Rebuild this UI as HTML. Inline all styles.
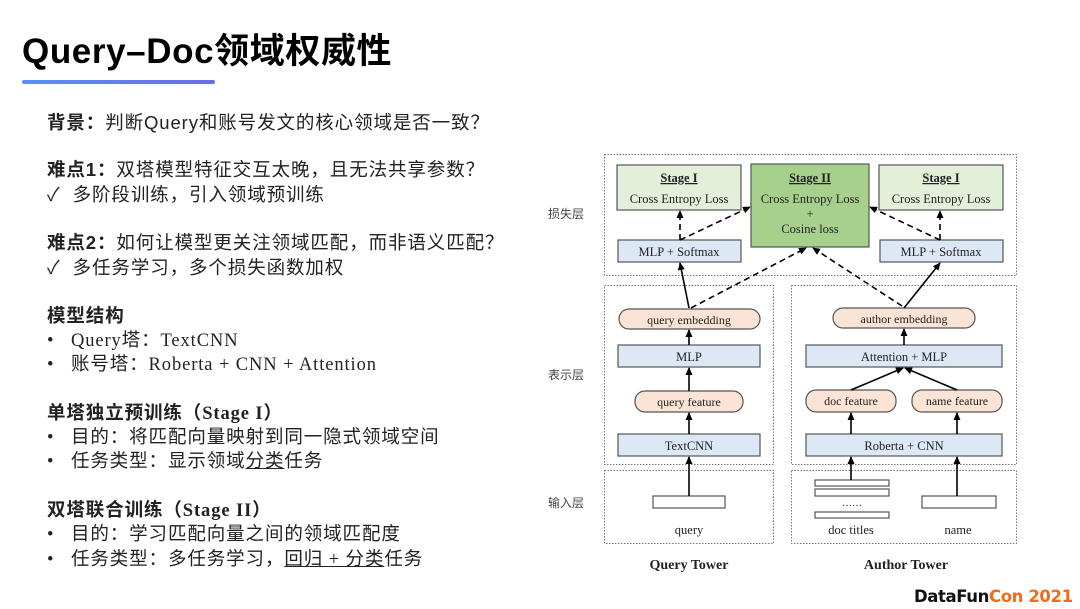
<!DOCTYPE html>
<html><head><meta charset="utf-8"><style>
body{margin:0;width:1080px;height:608px;background:#fff;position:relative;overflow:hidden;font-family:"Liberation Serif","Noto Sans CJK SC",serif;color:#222}
.t{position:absolute;white-space:nowrap;font-size:18.5px;line-height:24px;letter-spacing:0.9px}
.cn{font-family:"Liberation Sans","Noto Sans CJK SC",sans-serif}
b{font-weight:bold}
u{text-decoration:underline}
</style></head><body>
<div class="t cn" style="left:22px;top:30px;font-size:35px;line-height:44px;color:#000;font-weight:bold;letter-spacing:0.6px">Query–Doc领域权威性</div>
<div style="position:absolute;left:22px;top:80px;width:193px;height:4px;border-radius:2px;background:linear-gradient(90deg,#5b8ef5,#6a6cf0)"></div>

<div class="t cn" style="left:47px;top:111px"><b>背景：</b>判断Query和账号发文的核心领域是否一致？</div>
<div class="t cn" style="left:47px;top:158px"><b>难点1：</b>双塔模型特征交互太晚，且无法共享参数？</div>
<div class="t cn" style="left:47px;top:183px">✓&nbsp; 多阶段训练，引入领域预训练</div>
<div class="t cn" style="left:47px;top:231px"><b>难点2：</b>如何让模型更关注领域匹配，而非语义匹配？</div>
<div class="t cn" style="left:47px;top:256px">✓&nbsp; 多任务学习，多个损失函数加权</div>
<div class="t" style="left:47px;top:305px"><b>模型结构</b></div>
<div class="t" style="left:47px;top:329px">•&nbsp;&nbsp; Query塔：TextCNN</div>
<div class="t" style="left:47px;top:353px">•&nbsp;&nbsp; 账号塔：Roberta + CNN + Attention</div>
<div class="t" style="left:47px;top:402px"><b>单塔独立预训练（Stage I）</b></div>
<div class="t" style="left:47px;top:426px">•&nbsp;&nbsp; 目的：将匹配向量映射到同一隐式领域空间</div>
<div class="t" style="left:47px;top:450px">•&nbsp;&nbsp; 任务类型：显示领域<u>分类</u>任务</div>
<div class="t" style="left:47px;top:499px"><b>双塔联合训练（Stage II）</b></div>
<div class="t" style="left:47px;top:523px">•&nbsp;&nbsp; 目的：学习匹配向量之间的领域匹配度</div>
<div class="t" style="left:47px;top:548px">•&nbsp;&nbsp; 任务类型：多任务学习，<u>回归 + 分类</u>任务</div>

<svg style="position:absolute;left:0;top:0" width="1080" height="608" font-family="Liberation Serif, serif">
<defs><marker id="a" markerWidth="8" markerHeight="8" refX="7" refY="4" orient="auto" markerUnits="userSpaceOnUse"><path d="M0,0.5 L8,4 L0,7.5z" fill="#000"/></marker></defs>
<g fill="none" stroke="#777" stroke-dasharray="1.5,1.5" stroke-width="1">
<rect x="604.5" y="154.5" width="412" height="121"/>
<rect x="604.5" y="285.5" width="169" height="179"/>
<rect x="791.5" y="285.5" width="225" height="179"/>
<rect x="604.5" y="470.5" width="169" height="73"/>
<rect x="791.5" y="470.5" width="225" height="73"/>
</g>
<g font-family="Liberation Sans, Noto Sans CJK SC, sans-serif" font-size="12" fill="#444">
<text x="548" y="218">损失层</text><text x="548" y="379">表示层</text><text x="548" y="507">输入层</text></g>
<g stroke="#555" stroke-width="1.2">
<rect x="617" y="165" width="124" height="45" fill="#e2efd9"/>
<rect x="751" y="164" width="118" height="83" fill="#a8d08d"/>
<rect x="879" y="165" width="124" height="45" fill="#e2efd9"/>
<rect x="618" y="240" width="123" height="22" fill="#dce8f5"/>
<rect x="880" y="240" width="123" height="22" fill="#dce8f5"/>
<rect x="619" y="309" width="141" height="20" rx="10" fill="#fbe4d5"/>
<rect x="618" y="345" width="142" height="22" fill="#dce8f5"/>
<rect x="635" y="391" width="108" height="21" rx="10" fill="#fbe4d5"/>
<rect x="618" y="434" width="142" height="22" fill="#dce8f5"/>
<rect x="833" y="308" width="142" height="20" rx="10" fill="#fbe4d5"/>
<rect x="806" y="345" width="196" height="22" fill="#dce8f5"/>
<rect x="806" y="390" width="90" height="22" rx="10" fill="#fbe4d5"/>
<rect x="912" y="390" width="90" height="22" rx="10" fill="#fbe4d5"/>
<rect x="806" y="434" width="196" height="22" fill="#dce8f5"/>
<rect x="653" y="496" width="72" height="12" fill="#fff"/>
<rect x="815" y="480" width="74" height="6" fill="#fff"/>
<rect x="815" y="489" width="74" height="7" fill="#fff"/>
<rect x="815" y="512" width="74" height="6" fill="#fff"/>
<rect x="922" y="496" width="74" height="12" fill="#fff"/>
</g>
<g font-size="12.5" fill="#222" text-anchor="middle">
<text x="679" y="182" font-weight="bold" text-decoration="underline">Stage I</text>
<text x="679" y="203">Cross Entropy Loss</text>
<text x="810" y="182" font-weight="bold" text-decoration="underline">Stage II</text>
<text x="810" y="203">Cross Entropy Loss</text>
<text x="810" y="218">+</text>
<text x="810" y="233">Cosine loss</text>
<text x="941" y="182" font-weight="bold" text-decoration="underline">Stage I</text>
<text x="941" y="203">Cross Entropy Loss</text>
<text x="679" y="256">MLP + Softmax</text>
<text x="941" y="256">MLP + Softmax</text>
<text x="689" y="324" font-size="12">query embedding</text>
<text x="689" y="361">MLP</text>
<text x="689" y="406" font-size="12">query feature</text>
<text x="689" y="450">TextCNN</text>
<text x="904" y="323" font-size="12">author embedding</text>
<text x="904" y="361">Attention + MLP</text>
<text x="851" y="405" font-size="12">doc feature</text>
<text x="957" y="405" font-size="12">name feature</text>
<text x="904" y="450">Roberta + CNN</text>
<text x="852" y="506" font-size="10">……</text>
<text x="689" y="534">query</text>
<text x="851" y="534">doc titles</text>
<text x="958" y="534">name</text>
<text x="689" y="569" font-size="14" font-weight="bold">Query Tower</text>
<text x="906" y="569" font-size="14" font-weight="bold">Author Tower</text>
</g>
<g stroke="#000" stroke-width="1.6" fill="none" marker-end="url(#a)">
<line x1="689" y1="308" x2="680" y2="263"/>
<line x1="904" y1="308" x2="940" y2="263"/>
<line x1="689" y1="345" x2="689" y2="330"/>
<line x1="689" y1="391" x2="689" y2="368"/>
<line x1="689" y1="434" x2="689" y2="413"/>
<line x1="689" y1="496" x2="689" y2="457"/>
<line x1="904" y1="345" x2="904" y2="329"/>
<line x1="851" y1="390" x2="903" y2="368"/>
<line x1="957" y1="390" x2="905" y2="368"/>
<line x1="851" y1="434" x2="851" y2="413"/>
<line x1="957" y1="434" x2="957" y2="413"/>
<line x1="851" y1="480" x2="851" y2="457"/>
<line x1="957" y1="496" x2="957" y2="457"/>
</g>
<g stroke="#000" stroke-width="1.6" fill="none" stroke-dasharray="6,4" marker-end="url(#a)">
<line x1="691" y1="308" x2="806" y2="248"/>
<line x1="902" y1="306" x2="813" y2="248"/>
<line x1="680" y1="240" x2="680" y2="211"/>
<line x1="680" y1="240" x2="750" y2="207"/>
<line x1="940" y1="240" x2="940" y2="211"/>
<line x1="940" y1="240" x2="870" y2="207"/>
</g>
</svg>
<div class="t" style="left:914px;top:585px;font-family:'DejaVu Sans',sans-serif;font-size:16.5px;line-height:24px;font-weight:bold;letter-spacing:-0.4px"><span style="color:#111">DataFun</span><span style="color:#f26b1d">Con 2021</span></div>
</body></html>
